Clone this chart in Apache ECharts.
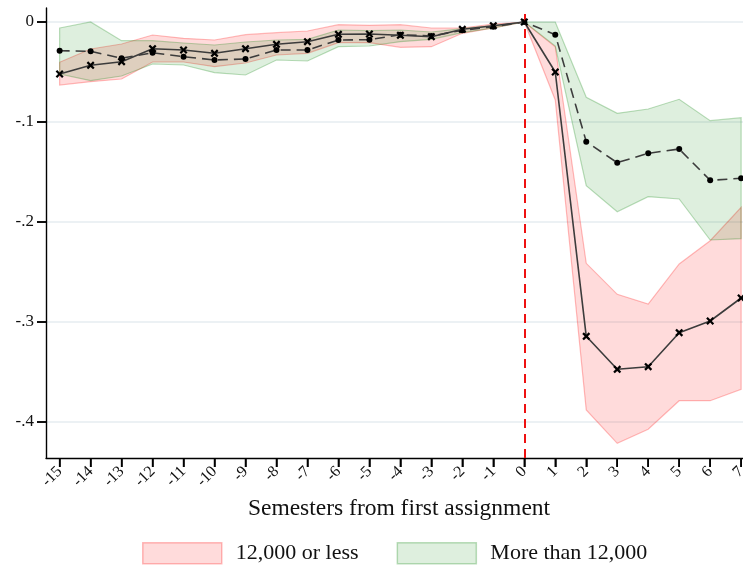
<!DOCTYPE html>
<html>
<head>
<meta charset="utf-8">
<script src="https://cdn.jsdelivr.net/npm/echarts@6/dist/echarts.min.js"></script>
<style>
  html, body { margin: 0; padding: 0; background: #fff; }
  #chart { width: 743px; height: 568px; }
</style>
</head>
<body>
<div id="chart"></div>
<script>
// Event-study estimates by group, semesters relative to first assignment
const semesters = [-15,-14,-13,-12,-11,-10,-9,-8,-7,-6,-5,-4,-3,-2,-1,0,1,2,3,4,5,6,7];
const yTicks = [0, -0.1, -0.2, -0.3, -0.4];

// 12,000 or less (solid line, x markers)
const lowEst   = [-0.052,-0.0433,-0.0397,-0.0267,-0.028,-0.0313,-0.0267,-0.0223,-0.0197,-0.0123,-0.012,-0.0133,-0.0147,-0.0073,-0.0037,0,-0.050,-0.3143,-0.3473,-0.3447,-0.3107,-0.299,-0.276];
const lowUpper = [-0.0403,-0.027,-0.022,-0.013,-0.0163,-0.018,-0.0127,-0.0107,-0.009,-0.0027,-0.0033,-0.0027,-0.006,-0.006,-0.002,0,-0.0247,-0.2413,-0.2723,-0.282,-0.242,-0.2187,-0.1853];
const lowLower = [-0.063,-0.0597,-0.057,-0.040,-0.040,-0.0447,-0.041,-0.033,-0.0313,-0.0207,-0.0207,-0.0253,-0.0247,-0.0113,-0.006,0,-0.078,-0.388,-0.4213,-0.4073,-0.3787,-0.3787,-0.3673];

// More than 12,000 (dashed line, circle markers)
const highEst   = [-0.0287,-0.0293,-0.0363,-0.0307,-0.0347,-0.038,-0.037,-0.028,-0.028,-0.018,-0.0177,-0.0127,-0.014,-0.0083,-0.0047,0,-0.0127,-0.1197,-0.1407,-0.1313,-0.127,-0.1583,-0.1563];
const highUpper = [-0.006,0.000,-0.0187,-0.0187,-0.021,-0.023,-0.020,-0.018,-0.0173,-0.008,-0.0087,-0.008,-0.010,-0.0067,-0.0037,0,0.000,-0.0753,-0.0913,-0.087,-0.0773,-0.0987,-0.0957];
const highLower = [-0.052,-0.0587,-0.054,-0.042,-0.043,-0.0507,-0.053,-0.038,-0.039,-0.0247,-0.024,-0.0197,-0.0173,-0.0107,-0.006,0,-0.024,-0.1637,-0.1897,-0.1747,-0.177,-0.218,-0.2167];

const groupNames = ['12,000 or less', 'More than 12,000'];

const X_MIN = -15.44, X_MAX = 7.06;
const Y_MIN = -0.436, Y_MAX = 0.014;
const TICK_LEN = 9;

const FONT = "'Liberation Serif', 'Times New Roman', serif";
const TEXT = '#111';
const LINE = '#3c3c3c';

const lowFill = 'rgba(255,0,0,0.14)';
const lowEdge = 'rgba(255,0,0,0.26)';
const highFill = 'rgba(0,128,0,0.13)';
const highEdge = 'rgba(0,128,0,0.26)';

const xMarker = 'path://M2,0 L5,3 L8,0 L10,2 L7,5 L10,8 L8,10 L5,7 L2,10 L0,8 L3,5 L0,2 Z';

function pairs(ys) { return semesters.map((s, i) => [s, ys[i]]); }

// Confidence band as one polygon: upper edge left to right, lower edge back
function bandSeries(name, upper, lower, fill, edge, z) {
  return {
    name: name,
    type: 'custom',
    z: z,
    silent: true,
    itemStyle: { color: fill, borderColor: edge },
    data: [[semesters[0], upper[0]]],
    renderItem: function (params, api) {
      const pts = [];
      for (let i = 0; i < semesters.length; i++) pts.push(api.coord([semesters[i], upper[i]]));
      for (let i = semesters.length - 1; i >= 0; i--) pts.push(api.coord([semesters[i], lower[i]]));
      return {
        type: 'polygon',
        shape: { points: pts },
        style: { fill: fill, stroke: edge, lineWidth: 1.2 }
      };
    }
  };
}

const chart = echarts.init(document.getElementById('chart'), null, { renderer: 'canvas' });

const titleText = {
  type: 'text',
  x: 399,
  y: 509,
  style: {
    text: 'Semesters from first assignment',
    font: "23.5px 'Liberation Serif', 'Times New Roman', serif",
    fill: TEXT,
    textAlign: 'center',
    textVerticalAlign: 'middle'
  }
};

chart.setOption({
  animation: false,
  backgroundColor: '#fff',
  grid: { left: 46, right: 0, top: 8, bottom: 110, outerBoundsMode: 'none' },
  xAxis: {
    type: 'value',
    min: X_MIN,
    max: X_MAX,
    axisLine: { onZero: false, lineStyle: { color: '#000', width: 1.4 } },
    axisTick: { show: true, length: TICK_LEN, customValues: semesters, lineStyle: { color: '#000', width: 1.5 } },
    axisLabel: {
      customValues: semesters,
      rotate: 45,
      margin: 11,
      fontFamily: FONT,
      fontSize: 16,
      color: TEXT,
      formatter: v => String(v)
    },
    splitLine: { show: false }
  },
  yAxis: {
    type: 'value',
    min: Y_MIN,
    max: Y_MAX,
    axisLine: { show: true, onZero: false, lineStyle: { color: '#000', width: 1.4 } },
    axisTick: { show: true, length: TICK_LEN, customValues: yTicks, lineStyle: { color: '#000', width: 1.5 } },
    axisLabel: {
      customValues: yTicks,
      margin: 12,
      fontFamily: FONT,
      fontSize: 17,
      color: TEXT,
      formatter: v => (v === 0 ? '0' : v.toFixed(1).replace('0.', '.'))
    },
    splitLine: { show: true, lineStyle: { color: '#e6edf0', width: 1.5 } }
  },
  legend: {
    left: 142,
    top: 542,
    padding: 0,
    itemWidth: 79,
    itemHeight: 21,
    itemGap: 38,
    selectedMode: false,
    textStyle: { fontFamily: FONT, fontSize: 22, color: TEXT, padding: [0, 0, 0, 9] },
    data: [
      { name: groupNames[0], icon: 'rect', itemStyle: { color: lowFill, borderColor: lowEdge, borderWidth: 1.5 } },
      { name: groupNames[1], icon: 'rect', itemStyle: { color: highFill, borderColor: highEdge, borderWidth: 1.5 } }
    ]
  },
  graphic: [titleText],
  series: [
    bandSeries(groupNames[0], lowUpper, lowLower, lowFill, lowEdge, 1),
    bandSeries(groupNames[1], highUpper, highLower, highFill, highEdge, 2),
    {
      name: 'event',
      type: 'line',
      data: [],
      z: 3,
      silent: true,
      markLine: {
        silent: true,
        symbol: 'none',
        label: { show: false },
        lineStyle: { color: '#ee1111', width: 2, type: [9, 6] },
        data: [{ xAxis: 0 }]
      }
    },
    {
      name: groupNames[1] + ' estimate',
      type: 'line',
      z: 4,
      data: pairs(highEst),
      symbol: 'circle',
      symbolSize: 6,
      itemStyle: { color: '#000' },
      lineStyle: { color: LINE, width: 1.6, type: [10, 6] }
    },
    {
      name: groupNames[0] + ' estimate',
      type: 'line',
      z: 5,
      data: pairs(lowEst),
      symbol: xMarker,
      symbolSize: 8,
      itemStyle: { color: '#000' },
      lineStyle: { color: LINE, width: 1.6 }
    }
  ]
});

// Outward tick marks, positioned through the axes' own scales
const tickStyle = { stroke: '#000', lineWidth: 1.5 };
const tickMarks = [];
semesters.forEach(s => {
  const p = chart.convertToPixel({ gridIndex: 0 }, [s, Y_MIN]);
  tickMarks.push({ type: 'line', z: 100, silent: true, shape: { x1: p[0], y1: p[1], x2: p[0], y2: p[1] + TICK_LEN }, style: tickStyle });
});
yTicks.forEach(v => {
  const p = chart.convertToPixel({ gridIndex: 0 }, [X_MIN, v]);
  tickMarks.push({ type: 'line', z: 100, silent: true, shape: { x1: p[0] - TICK_LEN, y1: p[1], x2: p[0], y2: p[1] }, style: tickStyle });
});
chart.setOption({ graphic: [titleText].concat(tickMarks) }, { replaceMerge: ['graphic'] });
</script>
</body>
</html>
